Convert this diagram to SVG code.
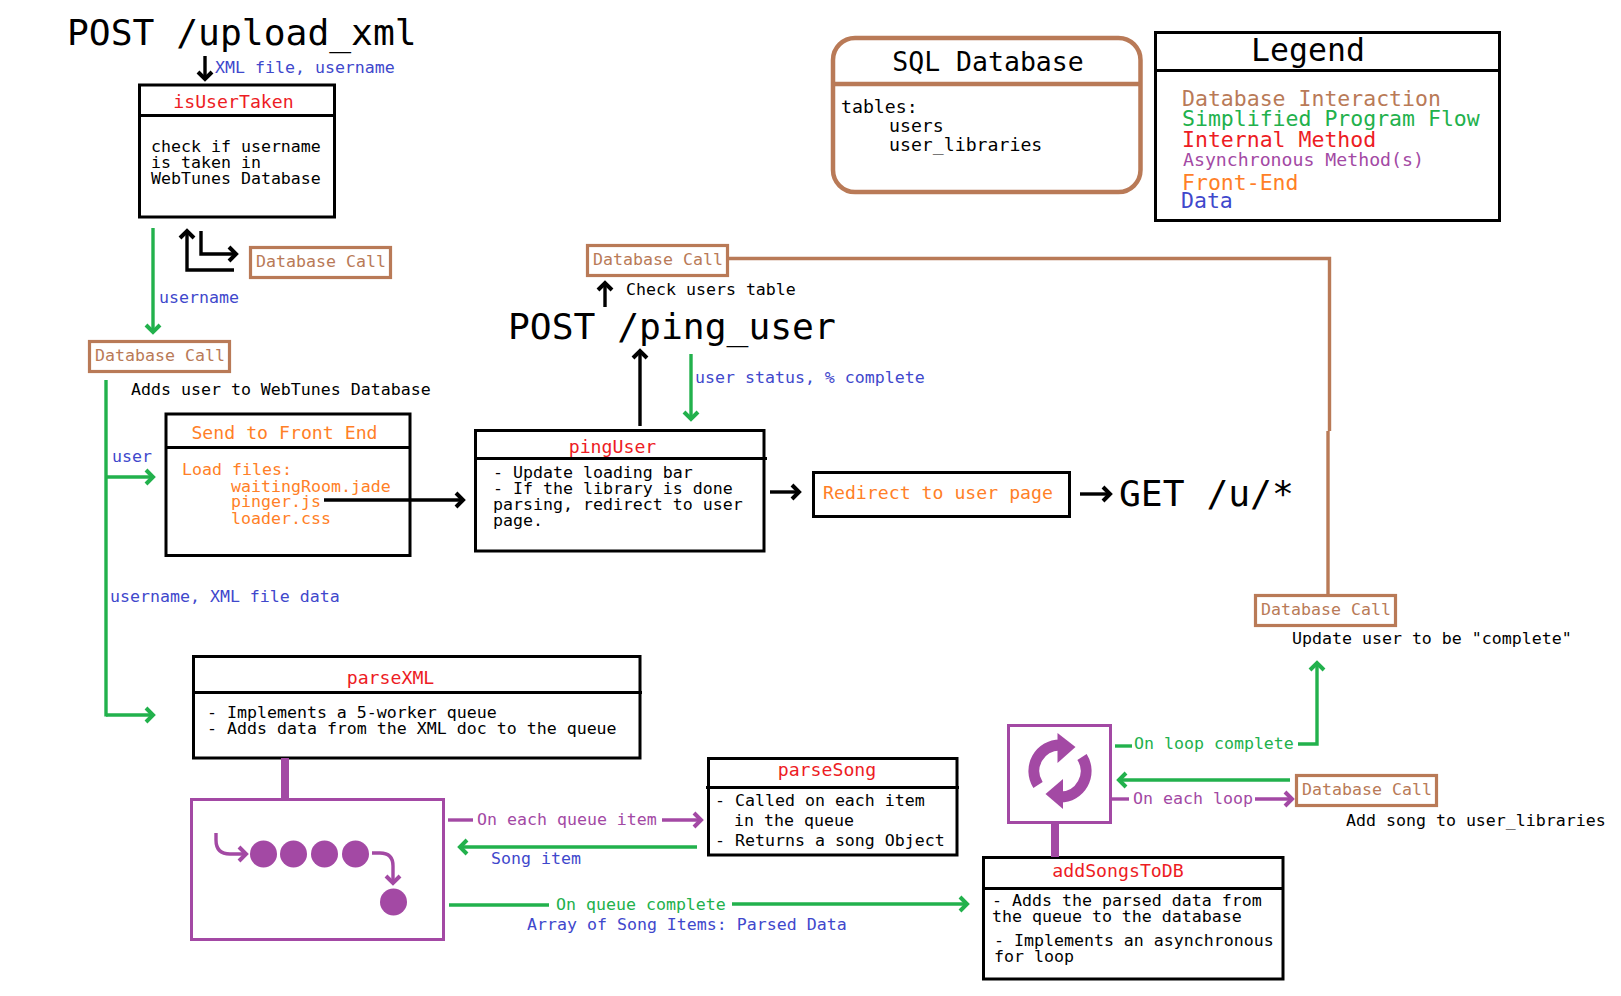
<svg xmlns="http://www.w3.org/2000/svg" width="1621" height="996" viewBox="0 0 1621 996">
<style>
text{font-family:"DejaVu Sans Mono","Liberation Mono",monospace;font-size:16.6px;fill:#000;white-space:pre}
.t{font-size:18.2px;text-anchor:middle}
.big{font-size:36.3px}
.leg{font-size:21.5px}
.red{fill:#ed1c24}.org{fill:#ff7f27}.blu{fill:#3f48cc}.grn{fill:#22b14c}.pur{fill:#a349a4}.brn{fill:#b97a57}
.box{fill:#fff;stroke:#000;stroke-width:3}
.div{stroke:#000;stroke-width:3;fill:none}
.db{fill:#fff;stroke:#b97a57;stroke-width:3.2}
.pbox{fill:#fff;stroke:#a349a4;stroke-width:3}
.k,.g,.p,.b{fill:none;stroke-width:3.4}
.k{stroke:#000}.g{stroke:#22b14c}.p{stroke:#a349a4}.b{stroke:#b97a57}
.ak{marker-end:url(#mk)}.ag{marker-end:url(#mg)}.ap{marker-end:url(#mp)}
.thick{stroke:#a349a4;stroke-width:8;fill:none}
circle{fill:#a349a4}
</style>
<defs>
<marker id="mk" markerUnits="userSpaceOnUse" markerWidth="18" markerHeight="20" refX="9" refY="10" orient="auto"><path d="M2,3 L9,10 L2,17" fill="none" stroke="#000" stroke-width="4"/></marker>
<marker id="mg" markerUnits="userSpaceOnUse" markerWidth="18" markerHeight="20" refX="9" refY="10" orient="auto"><path d="M2,3 L9,10 L2,17" fill="none" stroke="#22b14c" stroke-width="4"/></marker>
<marker id="mp" markerUnits="userSpaceOnUse" markerWidth="18" markerHeight="20" refX="9" refY="10" orient="auto"><path d="M2,3 L9,10 L2,17" fill="none" stroke="#a349a4" stroke-width="4"/></marker>
</defs>

<g id="post-upload"><text class="big" x="67" y="45">POST /upload_xml</text></g>
<g id="post-ping"><text class="big" x="508" y="339">POST /ping_user</text></g>
<g id="get-u"><text class="big" x="1119" y="506">GET /u/*</text></g>

<g id="isUserTaken">
<rect class="box" x="139.500" y="85" width="195" height="132"/>
<path class="div" d="M139,115.500H336"/>
<text class="t red" x="233.500" y="108">isUserTaken</text>
<text x="151" y="152">check if username</text>
<text x="151" y="168">is taken in</text>
<text x="151" y="184">WebTunes Database</text>
</g>

<g id="db-call-1"><rect class="db" x="250.500" y="247.500" width="140" height="30"/><text class="brn" x="256" y="267">Database Call</text></g>
<g id="db-call-2"><rect class="db" x="89.500" y="341.500" width="140" height="30"/><text class="brn" x="95" y="361">Database Call</text></g>
<g id="db-call-3"><rect class="db" x="587.500" y="245.500" width="140" height="30"/><text class="brn" x="593" y="265">Database Call</text></g>
<g id="db-call-4"><rect class="db" x="1255.500" y="595.500" width="140" height="30"/><text class="brn" x="1261" y="615">Database Call</text></g>
<g id="db-call-5"><rect class="db" x="1296.500" y="775.500" width="140" height="30"/><text class="brn" x="1302" y="795">Database Call</text></g>

<g id="sendToFrontEnd">
<rect class="box" x="166" y="414" width="244" height="141.500"/>
<path class="div" d="M166,447.500H410"/>
<text class="t org" x="284.500" y="439">Send to Front End</text>
<text class="org" x="182" y="475">Load files:</text>
<text class="org" x="231" y="492">waitingRoom.jade</text>
<text class="org" x="231" y="507">pinger.js</text>
<text class="org" x="231" y="524">loader.css</text>
</g>

<g id="pingUser">
<rect class="box" x="475.500" y="430.500" width="288.500" height="120.500"/>
<path class="div" d="M475,458.500H767"/>
<text class="t red" x="612.500" y="453">pingUser</text>
<text x="493" y="478">- Update loading bar</text>
<text x="493" y="494">- If the library is done</text>
<text x="493" y="510">parsing, redirect to user</text>
<text x="493" y="526">page.</text>
</g>

<g id="redirect">
<rect class="box" x="813.500" y="472.500" width="256" height="44"/>
<text class="org" style="font-size:18.2px" x="823" y="499">Redirect to user page</text>
</g>

<g id="parseXML">
<rect class="box" x="193.500" y="656.500" width="446.500" height="101.500"/>
<path class="div" d="M193,692.500H642"/>
<text class="t red" x="390.500" y="684">parseXML</text>
<text x="207" y="718">- Implements a 5-worker queue</text>
<text x="207" y="734">- Adds data from the XML doc to the queue</text>
</g>

<g id="queue">
<rect class="pbox" x="191.500" y="799.500" width="252" height="140"/>
<circle cx="263.500" cy="854" r="13.500"/><circle cx="293.500" cy="854" r="13.500"/><circle cx="324.500" cy="854" r="13.500"/><circle cx="355.500" cy="854" r="13.500"/><circle cx="393.500" cy="902" r="13.500"/>
<path class="p ap" d="M216,833V840Q216,854 230,854H246"/>
<path class="p ap" d="M372,853H380Q393,853 393,866V883"/>
</g>

<g id="parseSong">
<rect class="box" x="708.500" y="758.500" width="248.500" height="96.500"/>
<path class="div" d="M706,787.500H959"/>
<text class="t red" x="827" y="776">parseSong</text>
<text x="715" y="806">- Called on each item</text>
<text x="734" y="826">in the queue</text>
<text x="715" y="846">- Returns a song Object</text>
</g>

<g id="loop">
<rect class="pbox" x="1008.500" y="725.500" width="102" height="97"/>
<path d="M1038,785A26,26 0 0 1 1060,745" fill="none" stroke="#a349a4" stroke-width="11"/>
<polygon points="1057.500,733 1075.500,747 1057.500,763" fill="#a349a4"/>
<path d="M1082,757A26,26 0 0 1 1060,797" fill="none" stroke="#a349a4" stroke-width="11"/>
<polygon points="1063,779 1045.500,794 1063,809" fill="#a349a4"/>
</g>

<g id="addSongsToDB">
<rect class="box" x="983.500" y="857.500" width="299.500" height="121.500"/>
<path class="div" d="M983,888.500H1283"/>
<text class="t red" x="1118" y="877">addSongsToDB</text>
<text x="992" y="906">- Adds the parsed data from</text>
<text x="992" y="922">the queue to the database</text>
<text x="994" y="946">- Implements an asynchronous</text>
<text x="994" y="962">for loop</text>
</g>

<g id="sql-database">
<rect x="833" y="38" width="307.500" height="154" rx="22" fill="#fff" stroke="#b97a57" stroke-width="4.500"/>
<path d="M833,84H1140" stroke="#b97a57" stroke-width="4.500" fill="none"/>
<text style="font-size:26.500px;text-anchor:middle" x="988" y="71">SQL Database</text>
<text style="font-size:18.200px" x="841" y="113">tables:</text>
<text style="font-size:18.200px" x="889" y="132">users</text>
<text style="font-size:18.200px" x="889" y="151">user_libraries</text>
</g>

<g id="legend">
<rect class="box" x="1155.500" y="32.500" width="344" height="188"/>
<path class="div" d="M1155,70.500H1499"/>
<text style="font-size:31.500px;text-anchor:middle" x="1308" y="61">Legend</text>
<text class="leg brn" x="1182" y="106">Database Interaction</text>
<text class="leg grn" x="1182" y="126">Simplified Program Flow</text>
<text class="leg red" x="1182" y="147">Internal Method</text>
<text class="pur" style="font-size:18.200px" x="1183" y="166">Asynchronous Method(s)</text>
<text class="leg org" x="1182" y="190">Front-End</text>
<text class="leg blu" x="1181" y="208">Data</text>
</g>

<g id="connectors">
<path class="k ak" d="M205,56V79"/>
<path class="g ag" d="M153,228V332"/>
<path class="k ak" d="M234,270H187V231"/>
<path class="k ak" d="M201,231V254H236"/>
<path class="g" d="M106,380V716.500"/>
<path class="g ag" d="M106,477H153"/>
<path class="g ag" d="M106,715H153"/>
<path class="k ak" d="M324,500H463"/>
<path class="k ak" d="M640,426V351"/>
<path class="g ag" d="M691,354V419"/>
<path class="k ak" d="M605,307V283"/>
<path class="k ak" d="M770,492H799"/>
<path class="k ak" d="M1080,494H1110"/>
<path class="b" d="M728,258.500H1329.500V431"/>
<path class="b" d="M1328,431V595"/>
<path class="thick" d="M285,758V799"/>
<path class="p" d="M448,820H473"/>
<path class="p ap" d="M662,820H701"/>
<path class="g ag" d="M697,847H460"/>
<path class="g" d="M449,905H549"/>
<path class="g ag" d="M732,904H967"/>
<path class="thick" d="M1055,822V857"/>
<path class="g" d="M1115,746H1132"/>
<path class="g ag" d="M1298,744H1317V663"/>
<path class="g ag" d="M1290,780H1119"/>
<path class="p" d="M1111,799H1129"/>
<path class="p ap" d="M1255,799H1292"/>
</g>

<g id="labels">
<text class="blu" x="215" y="73">XML file, username</text>
<text class="blu" x="159" y="303">username</text>
<text x="131" y="395">Adds user to WebTunes Database</text>
<text class="blu" x="112" y="462">user</text>
<text class="blu" x="110" y="602">username, XML file data</text>
<text x="626" y="295">Check users table</text>
<text class="blu" x="695" y="383">user status, % complete</text>
<text x="1292" y="644">Update user to be "complete"</text>
<text class="pur" x="477" y="825">On each queue item</text>
<text class="blu" x="491" y="864">Song item</text>
<text class="grn" x="556" y="910">On queue complete</text>
<text class="blu" x="527" y="930">Array of Song Items: Parsed Data</text>
<text class="grn" x="1134" y="749">On loop complete</text>
<text class="pur" x="1133" y="804">On each loop</text>
<text x="1346" y="826">Add song to user_libraries</text>
</g>
</svg>
